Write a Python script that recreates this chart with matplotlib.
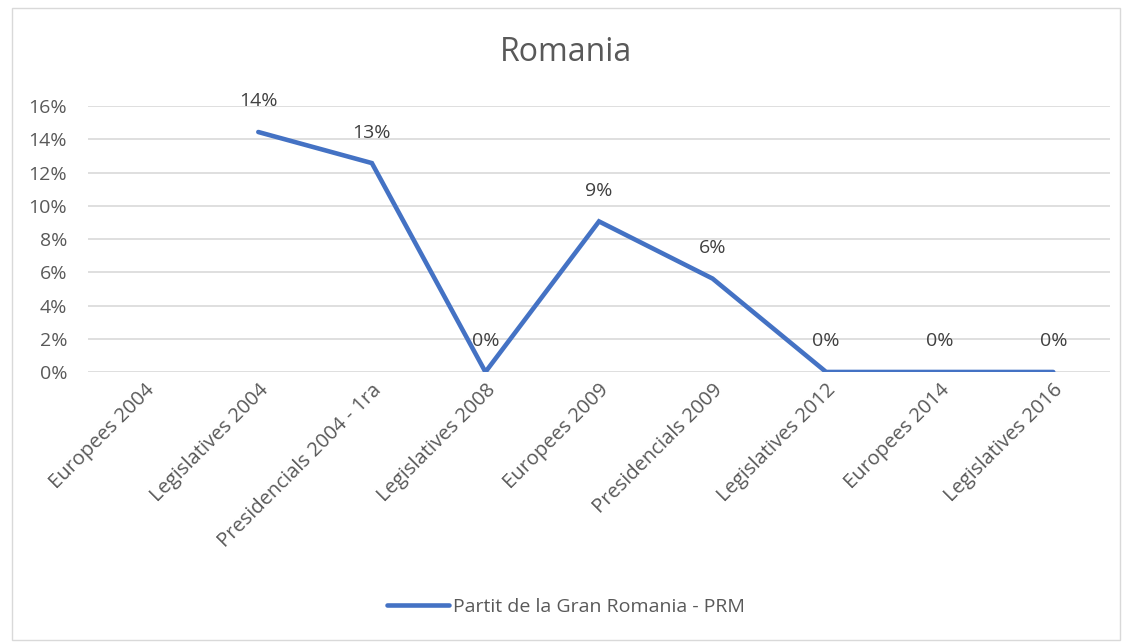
import numpy as np
import matplotlib.pyplot as plt
from matplotlib.patches import Rectangle

# --- data
categories = ["Europees 2004", "Legislatives 2004", "Presidencials 2004 - 1ra",
              "Legislatives 2008", "Europees 2009", "Presidencials 2009",
              "Legislatives 2012", "Europees 2014", "Legislatives 2016"]
prm_share = [np.nan, 0.1444, 0.1257, 0.0, 0.0906, 0.0562, 0.0, 0.0, 0.0]
series_name = "Partit de la Gran Romania - PRM"

text_col = "#595959"
line_col = "#4472C4"
grid_col = "#D9D9D9"

plt.rcParams["font.family"] = ["Open Sans", "DejaVu Sans"]

fig = plt.figure(figsize=(11.32, 6.43), dpi=100)
ax = fig.add_axes([0.0777, 0.4215, 0.9029, 0.4135])

x = np.arange(len(categories))
ax.plot(x, prm_share, color=line_col, linewidth=3.3, solid_capstyle="round",
        solid_joinstyle="miter", label=series_name)

# data labels
for xi, v in zip(x, prm_share):
    if np.isnan(v):
        continue
    ax.annotate(f"{v * 100:.0f}%", (xi, v), xytext=(0, 22), textcoords="offset points",
                ha="center", va="center", fontsize=14, color="#404040")

ax.set_xlim(-0.5, len(categories) - 0.5)
ax.set_ylim(0, 0.16)
ax.set_yticks(np.arange(0, 0.161, 0.02))
ax.set_yticklabels([f"{t * 100:.0f}%" for t in np.arange(0, 0.161, 0.02)])
ax.set_xticks(x)
ax.set_xticklabels(categories, rotation=45, ha="right", va="top", rotation_mode="anchor")

ax.grid(axis="y", color=grid_col, linewidth=1.2)
ax.set_axisbelow(True)
for s in ax.spines.values():
    s.set_visible(False)
ax.tick_params(length=0, labelsize=14, colors=text_col)
ax.tick_params(axis="y", pad=15)
ax.tick_params(axis="x", pad=6, labelsize=14.5)

fig.text(0.5, 0.918, "Romania", ha="center", va="center", fontsize=23, color=text_col)

leg = fig.legend(loc="center", bbox_to_anchor=(0.5, 0.056), frameon=False,
                 fontsize=14, handlelength=3.2, handletextpad=0.2)
for t in leg.get_texts():
    t.set_color(text_col)

# outer chart border
fig.patches.append(Rectangle((0.011, 0.004), 0.978, 0.984, transform=fig.transFigure,
                             fill=False, edgecolor="#D9D9D9", linewidth=1))

fig.savefig("out.png", dpi=100)
